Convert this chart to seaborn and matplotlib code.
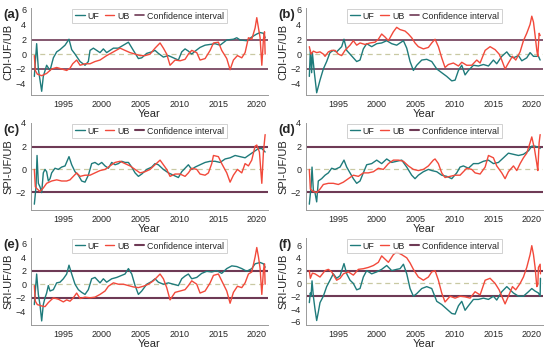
import matplotlib
matplotlib.use("Agg")
import matplotlib.pyplot as plt
import seaborn as sns
import pandas as pd

# ---------------- data ----------------
years_ticks = [1995, 2000, 2005, 2010, 2015, 2020]

# (a) CDI
ufa_t = [1991.25, 1991.55, 1991.77, 1992.20, 1992.41, 1992.84, 1993.28, 1993.71, 1994.14, 1994.57, 1995.22, 1995.73, 1996.08, 1996.51, 1997.16, 1997.80, 1998.23, 1998.45, 1998.88, 1999.74, 2000.17, 2000.60, 2001.47, 2002.11, 2002.76, 2003.41, 2004.05, 2004.70, 2005.13, 2005.78, 2006.42, 2006.85, 2007.28, 2007.93, 2008.58, 2009.22, 2009.87, 2010.30, 2010.73, 2011.16, 2011.59, 2012.03, 2012.67, 2013.32, 2013.97, 2014.61, 2015.26, 2016.12, 2016.98, 2017.41, 2017.84, 2018.71, 2019.35, 2020.00, 2020.43, 2020.86, 2021.08]
ufa_v = [-3.0, 1.4, -2.0, -5.0, -3.0, -1.5, -2.2, -0.5, 0.3, 0.6, 1.2, 2.0, 0.6, 0.0, -1.0, -1.5, -1.0, 0.5, 0.8, 0.2, 0.7, 0.2, 0.8, 0.8, 1.2, 1.6, 0.5, -0.6, -0.5, 0.1, 0.3, 0.5, 0.1, -0.4, -0.2, -0.5, -0.8, 0.3, 0.7, 0.4, 0.0, 0.4, 0.9, 1.2, 1.3, 1.4, 1.2, 1.9, 2.0, 2.2, 1.9, 1.8, 2.3, 2.7, 2.9, 2.8, 2.2]
uba_t = [1991.25, 1991.38, 1991.64, 1992.20, 1992.84, 1993.49, 1994.14, 1994.78, 1995.43, 1995.86, 1996.21, 1996.72, 1997.16, 1997.80, 1998.45, 1999.09, 1999.74, 2000.60, 2001.47, 2002.33, 2002.97, 2003.62, 2004.27, 2004.91, 2005.56, 2006.21, 2006.85, 2007.50, 2007.93, 2008.36, 2008.79, 2009.44, 2010.09, 2010.73, 2011.16, 2011.59, 2012.24, 2012.67, 2013.32, 2013.97, 2014.40, 2015.04, 2015.47, 2016.12, 2016.55, 2016.98, 2017.50, 2018.06, 2018.49, 2018.92, 2019.35, 2019.78, 2020.00, 2020.22, 2020.43, 2020.65, 2020.86, 2021.00, 2021.08]
uba_v = [-0.2, -2.2, -2.7, -2.9, -2.6, -2.0, -1.8, -2.0, -2.2, -1.9, -1.3, -0.8, -1.5, -1.3, -1.3, -1.0, -0.8, -0.2, 0.3, 0.8, 0.5, 0.2, 0.0, -0.2, -0.2, 0.0, 0.8, 1.5, 0.8, 0.0, -1.5, -0.8, -0.9, -0.7, 0.0, 0.5, 0.2, -0.8, -0.6, 0.5, 1.5, 1.6, 0.5, -0.6, -2.1, -0.8, -0.2, -0.5, 0.2, 2.2, 2.0, 3.5, 4.9, 3.5, 2.2, -1.5, 2.0, 3.0, 0.0]

# (b) CDI
ufb_t = [1991.25, 1991.38, 1991.55, 1991.64, 1991.90, 1992.20, 1992.63, 1993.06, 1993.49, 1993.92, 1994.35, 1994.78, 1995.43, 1995.73, 1996.08, 1996.51, 1996.94, 1997.37, 1997.80, 1998.23, 1998.66, 1999.31, 1999.96, 2000.60, 2001.25, 2001.90, 2002.54, 2002.97, 2003.41, 2003.84, 2004.27, 2004.70, 2005.13, 2005.78, 2006.42, 2007.07, 2007.72, 2008.36, 2009.01, 2009.66, 2010.09, 2010.52, 2010.95, 2011.38, 2011.81, 2012.46, 2013.10, 2013.75, 2014.40, 2015.04, 2015.47, 2016.12, 2016.77, 2017.20, 2017.63, 2018.28, 2018.71, 2019.35, 2019.78, 2020.22, 2020.86, 2021.08]
ufb_v = [-3.0, 0.5, -2.5, 0.2, -2.5, -5.2, -3.5, -2.0, -1.0, 0.2, 0.5, 0.3, 1.0, 2.0, 0.5, 0.0, -0.5, -1.0, -0.8, 0.7, 1.4, 1.0, 1.4, 1.5, 1.8, 1.4, 1.2, 1.5, 1.8, 0.8, -1.0, -2.2, -1.5, -0.8, -0.7, -1.0, -2.0, -2.5, -3.0, -3.6, -3.5, -2.2, -1.5, -2.8, -2.2, -1.5, -1.6, -1.4, -1.6, -0.8, -1.3, -0.3, 0.3, -0.3, -0.5, -0.2, -0.9, -0.5, 0.2, -0.3, -0.3, -0.8]
ubb_t = [1991.25, 1991.47, 1991.77, 1992.20, 1992.63, 1993.06, 1993.28, 1993.71, 1994.14, 1994.57, 1995.00, 1995.43, 1995.86, 1996.51, 1996.94, 1997.37, 1997.80, 1998.45, 1999.09, 1999.74, 2000.17, 2000.60, 2001.03, 2001.47, 2002.11, 2002.54, 2002.97, 2003.62, 2004.05, 2004.48, 2004.91, 2005.34, 2005.99, 2006.64, 2007.07, 2007.50, 2007.93, 2008.36, 2008.79, 2009.22, 2009.87, 2010.52, 2010.95, 2011.59, 2012.24, 2012.89, 2013.32, 2013.97, 2014.61, 2015.26, 2015.78, 2016.12, 2016.55, 2016.98, 2017.50, 2017.93, 2018.49, 2018.92, 2019.35, 2019.78, 2020.00, 2020.22, 2020.43, 2020.65, 2020.78, 2020.95, 2021.08]
ubb_v = [1.0, 0.0, 0.4, 0.2, 0.3, 0.0, -0.3, 0.3, 0.5, 0.5, 0.0, -0.2, 0.5, 1.2, 1.8, 1.2, 1.5, 1.3, 1.5, 1.6, 2.0, 2.7, 2.3, 1.8, 3.0, 3.6, 3.3, 3.1, 2.7, 2.2, 1.5, 1.0, 0.7, 0.9, 1.5, 2.0, 1.0, -0.5, -1.8, -1.4, -1.2, -1.6, -1.1, -1.5, -1.5, -0.8, -1.2, 0.5, 1.0, 0.6, 0.0, -0.8, -2.0, -1.2, -0.3, -0.8, 0.3, 1.8, 2.8, 4.0, 5.1, 4.3, 2.5, 0.5, -0.3, 2.8, 2.5]

# (c) SPI
ufc_t = [1991.25, 1991.47, 1991.60, 1991.77, 1991.98, 1992.20, 1992.41, 1992.63, 1992.84, 1993.06, 1993.28, 1993.49, 1993.92, 1994.35, 1994.78, 1995.22, 1995.73, 1996.08, 1996.51, 1996.94, 1997.37, 1997.80, 1998.23, 1998.66, 1999.09, 1999.53, 1999.96, 2000.39, 2000.82, 2001.25, 2001.68, 2002.11, 2002.54, 2002.97, 2003.41, 2003.84, 2004.27, 2004.70, 2005.13, 2005.78, 2006.42, 2006.85, 2007.28, 2007.93, 2008.58, 2009.22, 2009.87, 2010.30, 2010.73, 2011.16, 2011.59, 2012.03, 2012.67, 2013.32, 2013.97, 2014.61, 2015.26, 2015.91, 2016.55, 2017.20, 2017.84, 2018.49, 2018.92, 2019.35, 2019.78, 2020.22, 2020.65, 2021.08]
ufc_v = [-3.0, -1.5, 1.2, -1.2, -1.5, -2.0, -0.3, 0.0, -0.2, -1.0, -0.8, -0.3, 0.1, 0.0, 0.2, 0.3, 1.1, 0.4, -0.2, -0.5, -1.0, -1.1, -0.5, 0.5, 0.6, 0.4, 0.6, 0.3, 0.1, 0.6, 0.4, 0.5, 0.7, 0.6, 0.6, 0.2, -0.3, -0.6, -0.4, 0.0, 0.2, 0.5, 0.4, 0.0, -0.3, -0.5, -0.7, -0.2, 0.1, 0.4, 0.0, 0.2, 0.4, 0.6, 0.7, 0.7, 0.6, 0.9, 1.0, 1.2, 1.1, 1.0, 1.2, 1.4, 1.6, 1.8, 1.8, 1.5]
ubc_t = [1991.25, 1991.38, 1991.64, 1991.98, 1992.41, 1992.84, 1993.49, 1994.14, 1994.78, 1995.43, 1995.86, 1996.29, 1996.72, 1997.16, 1997.80, 1998.45, 1999.09, 1999.74, 2000.39, 2001.03, 2001.68, 2002.33, 2002.97, 2003.62, 2004.27, 2004.91, 2005.56, 2006.21, 2006.85, 2007.50, 2007.93, 2008.36, 2008.79, 2009.44, 2010.09, 2010.73, 2011.16, 2011.59, 2012.24, 2012.67, 2013.32, 2013.75, 2014.18, 2014.40, 2015.04, 2015.47, 2016.12, 2016.55, 2016.98, 2017.50, 2018.06, 2018.49, 2018.92, 2019.35, 2019.78, 2020.00, 2020.34, 2020.65, 2020.86, 2021.08]
ubc_v = [0.0, -1.5, -1.7, -1.9, -1.6, -1.2, -1.0, -0.9, -1.0, -1.0, -0.9, -0.6, -0.3, -0.6, -0.5, -0.5, -0.3, -0.1, 0.0, 0.3, 0.6, 0.7, 0.5, 0.3, 0.0, -0.3, -0.2, 0.0, 0.4, 0.8, 0.4, 0.0, -0.6, -0.4, -0.4, -0.6, -0.3, 0.1, 0.0, -0.4, -0.5, -0.3, 0.5, 1.2, 1.1, 0.5, -0.3, -1.1, -0.5, 0.0, -0.3, 0.5, 0.3, 0.8, 2.0, 2.1, 1.5, -1.2, 1.5, 3.0]

# (d) SPI
ufd_t = [1991.25, 1991.47, 1991.60, 1991.77, 1991.98, 1992.20, 1992.41, 1992.84, 1993.28, 1993.71, 1994.14, 1994.57, 1995.22, 1995.73, 1996.08, 1996.51, 1996.94, 1997.37, 1997.80, 1998.23, 1998.66, 1999.31, 1999.96, 2000.60, 2001.25, 2001.90, 2002.54, 2003.19, 2003.84, 2004.48, 2004.91, 2005.34, 2005.99, 2006.64, 2007.07, 2007.72, 2008.36, 2009.01, 2009.66, 2010.30, 2010.73, 2011.16, 2011.81, 2012.46, 2013.10, 2013.75, 2014.40, 2015.04, 2015.69, 2016.34, 2016.98, 2017.63, 2018.28, 2018.92, 2019.57, 2020.00, 2020.43, 2020.86, 2021.08]
ufd_v = [-3.0, -1.5, 0.2, -1.8, -2.0, -2.8, -1.0, -0.8, -0.5, -0.3, 0.1, 0.0, 0.2, 0.8, 0.2, -0.3, -0.8, -1.2, -1.0, -0.3, 0.4, 0.5, 0.8, 0.5, 0.9, 0.6, 0.7, 0.8, 0.2, -0.5, -0.8, -0.5, -0.2, 0.0, -0.1, -0.2, -0.5, -0.6, -0.8, -0.3, 0.2, 0.3, 0.1, 0.5, 0.5, 0.7, 0.8, 0.5, 0.6, 1.0, 1.4, 1.3, 1.2, 1.3, 1.6, 2.0, 2.0, 1.9, 1.8]
ubd_t = [1991.25, 1991.38, 1991.77, 1992.20, 1992.63, 1993.06, 1993.71, 1994.35, 1995.00, 1995.65, 1996.29, 1996.94, 1997.59, 1998.23, 1998.88, 1999.53, 2000.17, 2000.82, 2001.47, 2002.11, 2002.76, 2003.41, 2004.05, 2004.70, 2005.34, 2005.99, 2006.64, 2007.28, 2007.50, 2007.93, 2008.36, 2008.79, 2009.44, 2010.09, 2010.73, 2011.16, 2011.59, 2012.24, 2012.67, 2013.32, 2013.97, 2014.40, 2015.04, 2015.47, 2016.12, 2016.55, 2016.98, 2017.63, 2018.06, 2018.49, 2018.92, 2019.35, 2019.78, 2020.00, 2020.34, 2020.65, 2020.78, 2020.95, 2021.08]
ubd_v = [0.0, -1.7, -1.9, -2.0, -1.7, -1.3, -1.2, -1.2, -1.3, -1.1, -0.8, -0.5, -0.6, -0.3, -0.3, -0.2, 0.1, 0.0, 0.5, 0.8, 0.8, 0.7, 0.3, 0.0, -0.1, 0.0, 0.3, 0.8, 0.9, 0.5, -0.3, -0.7, -0.6, -0.5, -0.5, -0.2, 0.1, 0.0, -0.3, -0.4, 0.2, 1.2, 1.0, 0.3, -0.3, -0.8, -0.2, 0.3, -0.1, 0.5, 1.0, 1.4, 2.3, 2.8, 1.8, 0.5, -0.1, 2.3, 3.0]

# (e) SRI
ufe_t = [1991.25, 1991.38, 1991.55, 1991.77, 1991.98, 1992.20, 1992.41, 1992.63, 1992.84, 1993.06, 1993.28, 1993.71, 1994.14, 1994.57, 1995.00, 1995.43, 1995.73, 1996.08, 1996.51, 1996.94, 1997.37, 1997.80, 1998.23, 1998.66, 1999.09, 1999.74, 2000.17, 2000.60, 2001.25, 2001.90, 2002.54, 2002.97, 2003.41, 2003.84, 2004.27, 2004.70, 2005.13, 2005.78, 2006.42, 2006.85, 2007.28, 2007.93, 2008.58, 2009.22, 2009.87, 2010.30, 2010.73, 2011.16, 2011.59, 2012.24, 2012.89, 2013.53, 2014.18, 2014.83, 2015.47, 2016.12, 2016.77, 2017.41, 2018.06, 2018.71, 2019.35, 2019.78, 2020.43, 2020.86, 2021.08]
ufe_v = [-3.0, -1.0, 1.5, -1.5, -3.0, -5.4, -3.0, -2.0, -1.3, -0.2, -1.0, -0.8, 0.2, 0.3, 0.8, 1.5, 2.8, 1.5, 0.0, -0.8, -1.2, -1.5, -0.8, 0.8, 1.0, 0.2, 0.8, 0.3, 0.8, 1.0, 1.3, 1.5, 2.3, 1.5, -0.2, -1.5, -1.0, 0.0, 0.4, 0.8, 0.3, 0.0, 0.2, 0.0, -0.2, 0.8, 1.2, 1.5, 0.8, 1.0, 1.6, 1.9, 1.8, 2.0, 1.6, 2.3, 2.7, 2.6, 2.3, 1.9, 2.3, 3.0, 3.2, 3.0, 2.5]
ube_t = [1991.25, 1991.38, 1991.64, 1992.20, 1992.63, 1993.06, 1993.71, 1994.35, 1995.00, 1995.43, 1995.86, 1996.29, 1996.72, 1997.16, 1997.80, 1998.45, 1999.09, 1999.74, 2000.39, 2000.82, 2001.47, 2002.11, 2002.76, 2003.41, 2004.05, 2004.70, 2005.34, 2005.99, 2006.64, 2007.07, 2007.50, 2007.93, 2008.36, 2008.79, 2009.44, 2010.09, 2010.73, 2011.16, 2011.59, 2012.24, 2012.67, 2013.32, 2013.97, 2014.40, 2015.04, 2015.47, 2016.12, 2016.55, 2016.98, 2017.50, 2018.06, 2018.49, 2018.92, 2019.35, 2019.78, 2020.00, 2020.22, 2020.43, 2020.65, 2020.86, 2021.00, 2021.08]
ube_v = [-0.2, -2.5, -3.0, -3.2, -3.3, -2.7, -2.0, -2.2, -2.6, -2.3, -2.5, -2.0, -1.3, -2.1, -1.9, -2.0, -1.9, -1.5, -1.0, -0.3, 0.2, 0.0, 0.0, -0.2, -0.4, -0.5, -0.3, 0.0, 0.5, 1.0, 1.5, 0.8, -0.5, -2.3, -1.2, -1.0, -0.8, -0.2, 0.5, 0.0, -1.3, -1.0, 0.2, 1.3, 1.5, 0.5, -1.0, -2.8, -1.2, -0.3, -0.5, 0.2, 1.5, 1.8, 4.0, 5.4, 4.0, 2.3, -1.5, 2.0, 3.0, 0.0]

# (f) SRI
uff_t = [1991.25, 1991.38, 1991.47, 1991.60, 1991.77, 1991.98, 1992.20, 1992.41, 1992.63, 1993.06, 1993.49, 1993.92, 1994.35, 1994.78, 1995.22, 1995.73, 1996.08, 1996.51, 1996.94, 1997.37, 1997.80, 1998.23, 1998.66, 1999.31, 1999.96, 2000.60, 2001.25, 2001.90, 2002.54, 2002.97, 2003.41, 2003.84, 2004.27, 2004.70, 2005.13, 2005.78, 2006.42, 2007.07, 2007.72, 2008.36, 2009.01, 2009.66, 2010.09, 2010.52, 2010.95, 2011.38, 2011.81, 2012.46, 2013.10, 2013.75, 2014.40, 2015.04, 2015.47, 2016.12, 2016.77, 2017.20, 2017.63, 2018.28, 2018.92, 2019.57, 2020.00, 2020.43, 2020.86, 2021.08, 2021.12]
uff_v = [-3.0, -1.5, -2.0, 0.4, -2.0, -4.0, -5.8, -4.5, -3.0, -2.0, -0.5, 0.5, 1.5, 0.8, 1.2, 3.1, 1.5, 0.5, 0.0, -1.0, -0.8, 1.0, 2.0, 1.5, 1.8, 2.2, 2.8, 2.0, 2.2, 2.3, 3.0, 1.5, -0.8, -2.0, -1.6, -0.8, -0.5, -0.8, -2.8, -3.3, -4.0, -4.7, -4.8, -3.5, -2.8, -4.2, -3.5, -2.5, -2.5, -2.3, -2.5, -2.0, -2.6, -1.3, -0.5, -1.0, -1.5, -2.0, -2.0, -1.3, -0.8, -1.2, -1.5, -2.0, 0.8]
ubf_t = [1991.25, 1991.38, 1991.64, 1991.98, 1992.63, 1993.28, 1993.71, 1994.14, 1994.78, 1995.22, 1995.65, 1996.29, 1996.94, 1997.59, 1998.23, 1998.88, 1999.53, 2000.17, 2000.60, 2001.03, 2001.47, 2002.11, 2002.54, 2003.19, 2003.84, 2004.27, 2004.70, 2005.34, 2005.99, 2006.64, 2007.07, 2007.50, 2007.93, 2008.36, 2008.79, 2009.44, 2010.09, 2010.73, 2011.38, 2012.03, 2012.67, 2013.32, 2013.97, 2014.61, 2015.26, 2015.78, 2016.12, 2016.55, 2016.98, 2017.50, 2017.93, 2018.49, 2018.92, 2019.35, 2019.78, 2020.00, 2020.22, 2020.43, 2020.65, 2020.78, 2020.86, 2021.08, 2021.12]
ubf_v = [2.0, 0.8, 1.6, 1.5, 1.0, 2.0, 2.2, 1.8, 0.5, 0.8, 1.5, 1.8, 1.3, 2.2, 2.3, 2.5, 2.8, 3.3, 4.3, 3.8, 3.3, 4.5, 4.9, 4.5, 4.0, 3.2, 2.2, 1.0, 0.5, 1.0, 1.8, 2.0, 0.5, -1.5, -2.9, -2.0, -2.3, -2.0, -2.1, -2.3, -1.3, -1.8, 0.5, 0.8, 0.0, -1.0, -2.0, -3.2, -2.0, -0.5, -1.0, 0.0, 1.0, 2.5, 4.5, 5.9, 4.5, 2.5, -0.5, -0.2, 2.5, 3.0, 1.5]

panels = [
    ("(a)", "CDI-UF/UB", ufa_t, ufa_v, uba_t, uba_v, (-5.5, 6.2), [-4, -2, 0, 2, 4, 6]),
    ("(b)", "CDI-UF/UB", ufb_t, ufb_v, ubb_t, ubb_v, (-5.5, 6.2), [-4, -2, 0, 2, 4, 6]),
    ("(c)", "SPI-UF/UB", ufc_t, ufc_v, ubc_t, ubc_v, (-3.5, 4.0), [-2, 0, 2, 4]),
    ("(d)", "SPI-UF/UB", ufd_t, ufd_v, ubd_t, ubd_v, (-3.5, 4.0), [-2, 0, 2, 4]),
    ("(e)", "SRI-UF/UB", ufe_t, ufe_v, ube_t, ube_v, (-6.0, 6.8), [-4, -2, 0, 2, 4, 6]),
    ("(f)", "SRI-UF/UB", uff_t, uff_v, ubf_t, ubf_v, (-6.5, 7.1), [-6, -4, -2, 0, 2, 4, 6]),
]
conf_level = 1.96

# ---------------- style ----------------
sns.set_theme(style="white")
plt.rcParams["font.family"] = ["Liberation Sans", "DejaVu Sans"]

UF_COLOR = "#1f7b7b"
UB_COLOR = "#f2493b"
CI_COLOR = "#6e3a55"
ZERO_COLOR = "#c9c9a3"
SPINE = "#9a9a9a"

fig = plt.figure(figsize=(5.5, 3.5), dpi=100)

col_x = [31 / 550, 306 / 550]
ax_w = 237 / 550
row_top = [8, 123, 238]
ax_h = 87 / 350

for i, (tag, ylab, uft, ufv, ubt, ubv, ylim, yticks) in enumerate(panels):
    r, c = divmod(i, 2)
    bottom = 1 - (row_top[r] + 87) / 350
    ax = fig.add_axes([col_x[c], bottom, ax_w, ax_h])

    ci_lw = 1.2 if r == 0 else 1.5
    ax.axhline(0, color=ZERO_COLOR, lw=0.9, ls=(0, (4, 3)), zorder=1)
    sns.lineplot(x=uft, y=ufv, ax=ax, color=UF_COLOR, lw=1.0, label="UF", zorder=3)
    sns.lineplot(x=ubt, y=ubv, ax=ax, color=UB_COLOR, lw=1.0, label="UB", zorder=3)
    ax.axhline(conf_level, color=CI_COLOR, lw=ci_lw, label="Confidence interval", zorder=2)
    ax.axhline(-conf_level, color=CI_COLOR, lw=ci_lw, zorder=2)

    ax.set_xlim(1990.82, 2021.45)
    ax.set_ylim(*ylim)
    ax.set_xticks(years_ticks)
    ax.set_yticks(yticks)
    ax.set_xlabel("Year", fontsize=8, labelpad=0)
    ax.set_ylabel(ylab, fontsize=8, labelpad=2)
    ax.tick_params(axis="both", labelsize=6.5, length=2, width=0.6, color=SPINE, pad=1.5)
    for side in ["top", "right"]:
        ax.spines[side].set_visible(False)
    for side in ["left", "bottom"]:
        ax.spines[side].set_color(SPINE)
        ax.spines[side].set_linewidth(0.7)

    leg = ax.legend(loc="upper center", bbox_to_anchor=(0.5, 1.0), ncol=3,
                    fontsize=6.4, handlelength=1.1, handletextpad=0.3,
                    columnspacing=0.6, borderpad=0.3, borderaxespad=0.1,
                    frameon=True, fancybox=False)
    leg.get_frame().set_edgecolor("#bdbdbd")
    leg.get_frame().set_linewidth(0.6)

    fig.text(col_x[c] - 28 / 550, 1 - (row_top[r] + 7) / 350, tag,
             fontsize=9.5, fontweight="bold", va="center", ha="left")

fig.savefig("out.png", dpi=100)
